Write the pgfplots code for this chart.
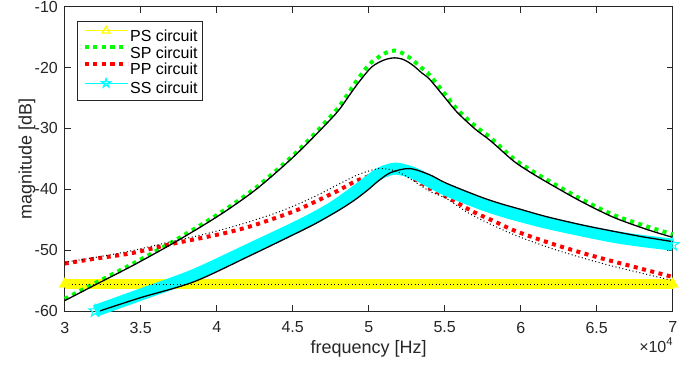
\documentclass[border=0pt]{standalone}
\usepackage{pgfplots}
\pgfplotsset{compat=1.18}
\usepackage{pgfplotstable}
\usepackage{fontspec}
\setmainfont{Liberation Sans}
\definecolor{axgray}{rgb}{0.15,0.15,0.15}
\definecolor{myyellow}{rgb}{1,1,0}
\definecolor{mygreen}{rgb}{0,1,0}
\definecolor{myred}{rgb}{1,0,0}
\definecolor{mycyan}{rgb}{0,1,1}
\pgfdeclareplotmark{pentagram}{%
 \pgfpathmoveto{\pgfpointpolar{90}{\pgfplotmarksize}}%
 \pgfpathlineto{\pgfpointpolar{126}{0.382\pgfplotmarksize}}%
 \pgfpathlineto{\pgfpointpolar{162}{\pgfplotmarksize}}%
 \pgfpathlineto{\pgfpointpolar{198}{0.382\pgfplotmarksize}}%
 \pgfpathlineto{\pgfpointpolar{234}{\pgfplotmarksize}}%
 \pgfpathlineto{\pgfpointpolar{270}{0.382\pgfplotmarksize}}%
 \pgfpathlineto{\pgfpointpolar{306}{\pgfplotmarksize}}%
 \pgfpathlineto{\pgfpointpolar{342}{0.382\pgfplotmarksize}}%
 \pgfpathlineto{\pgfpointpolar{18}{\pgfplotmarksize}}%
 \pgfpathlineto{\pgfpointpolar{54}{0.382\pgfplotmarksize}}%
 \pgfpathclose\pgfusepathqstroke}

% PS circuit (yellow)
\pgfplotstableread{
x y
3.0 -55.6
3.5 -55.6
4.0 -55.6
4.5 -55.6
5.0 -55.6
5.5 -55.6
6.0 -55.6
6.5 -55.6
7.0 -55.6
}\psdata
\pgfplotstableread{
x y
3.0 -55.6
7.0 -55.6
}\psref

% SP circuit (green)
\pgfplotstableread{
x y
3.00 -58.0
3.24 -54.9
3.45 -52.2
3.69 -48.9
3.90 -45.8
4.07 -43.1
4.25 -39.9
4.42 -36.3
4.55 -33.3
4.70 -29.4
4.80 -26.6
4.88 -23.7
4.92 -22.2
4.98 -20.2
5.02 -19.1
5.07 -18.2
5.12 -17.5
5.17 -17.2
5.22 -17.6
5.26 -18.2
5.30 -19.0
5.35 -20.1
5.40 -21.2
5.50 -24.3
5.58 -26.8
5.70 -29.6
5.80 -31.5
5.95 -34.9
6.05 -36.6
6.17 -38.4
6.39 -41.5
6.61 -44.2
6.83 -46.1
7.00 -47.4
}\spdata
\pgfplotstableread{
x y
3.00 -58.3
3.24 -55.2
3.45 -52.5
3.69 -49.2
3.90 -46.1
4.07 -43.4
4.25 -40.2
4.42 -36.6
4.55 -33.6
4.70 -29.8
4.80 -27.1
4.88 -24.3
4.92 -22.9
4.98 -21.0
5.02 -19.9
5.07 -19.1
5.12 -18.6
5.17 -18.4
5.22 -18.6
5.26 -19.1
5.30 -19.8
5.35 -20.9
5.40 -21.9
5.50 -24.9
5.58 -27.3
5.70 -30.1
5.80 -32.0
5.95 -35.3
6.05 -37.0
6.17 -38.8
6.39 -41.9
6.61 -44.6
6.83 -46.6
7.00 -47.9
}\spref

% PP circuit (red)
\pgfplotstableread{
x y
3.00 -52.2
3.20 -51.4
3.44 -50.5
3.70 -49.0
3.90 -48.0
4.07 -47.1
4.22 -46.1
4.40 -44.6
4.53 -43.4
4.66 -41.9
4.80 -40.2
4.92 -38.6
5.05 -37.5
5.15 -37.1
5.25 -37.6
5.40 -39.8
5.54 -41.6
5.68 -43.6
5.82 -45.2
5.97 -46.9
6.20 -48.9
6.41 -50.5
6.60 -51.8
6.80 -53.1
7.00 -54.4
}\ppdata
\pgfplotstableread{
x y
3.00 -52.0
3.20 -51.2
3.44 -50.1
3.70 -48.6
3.90 -47.5
4.07 -46.4
4.22 -45.3
4.40 -43.8
4.53 -42.5
4.66 -41.0
4.80 -39.2
4.92 -37.7
5.00 -37.0
5.07 -36.6
5.15 -36.8
5.23 -37.6
5.40 -40.3
5.51 -41.5
5.65 -43.8
5.79 -45.6
5.97 -47.6
6.20 -49.7
6.41 -51.3
6.60 -52.6
6.80 -53.8
7.00 -55.0
}\ppref

% SS circuit (cyan)
\pgfplotstableread{
x y
3.20 -60.0
3.50 -57.3
3.85 -54.1
4.22 -49.8
4.55 -45.9
4.75 -43.2
4.90 -40.6
5.00 -38.7
5.08 -37.3
5.18 -36.6
5.30 -37.4
5.40 -38.7
5.51 -40.1
5.73 -42.3
5.86 -43.4
5.97 -44.2
6.17 -45.5
6.41 -46.8
6.61 -47.8
6.80 -48.5
7.00 -49.1
}\ssdata
\pgfplotstableread{
x y
3.23 -60.0
3.50 -57.8
3.85 -55.2
4.22 -50.9
4.55 -46.9
4.66 -45.5
4.80 -43.5
4.90 -41.9
4.99 -40.2
5.07 -38.5
5.15 -37.2
5.27 -36.6
5.40 -37.6
5.51 -39.0
5.73 -41.2
5.86 -42.3
6.00 -43.3
6.17 -44.5
6.41 -45.9
6.61 -46.9
6.80 -47.8
7.00 -48.6
}\ssref

\begin{document}
\begin{tikzpicture}
\useasboundingbox (-64.7bp,-55bp) rectangle (634.3bp,311bp);
\begin{axis}[
  at={(0,0)}, anchor=south west,
  scale only axis, width=608bp, height=304.3bp,
  xmin=3, xmax=7, ymin=-60, ymax=-10,
  clip=false,
  xtick={3,3.5,4,4.5,5,5.5,6,6.5,7},
  ytick={-60,-50,-40,-30,-20,-10},
  tick align=inside, major tick length=6bp,
  axis line style={axgray, line width=0.8bp},
  every tick/.style={axgray, line width=0.8bp},
  /pgf/number format/assume math mode=true,
  tick label style={font=\fontsize{16bp}{19bp}\selectfont, text=axgray, inner sep=0pt},
  xticklabel style={anchor=north, yshift=-10.7bp},
  yticklabel style={anchor=east, xshift=-6.7bp},
  xlabel={frequency [Hz]},
  xlabel style={at={(axis description cs:0.5,-0.0953)}, anchor=north, inner sep=0pt,
     font=\fontsize{18bp}{21bp}\selectfont, text=axgray},
  ylabel={magnitude [dB]},
  ylabel style={at={(axis description cs:-0.062,0.5)}, anchor=center, inner sep=0pt,
     font=\fontsize{18bp}{21bp}\selectfont, text=axgray},
  legend style={at={(axis description cs:0.0207,0.953)}, anchor=north west,
     draw=axgray, line width=0.6bp, fill=white,
     inner xsep=5bp, inner ysep=5bp, row sep=2.5bp,
     font=\fontsize{16bp}{19bp}\selectfont, text=black,
     nodes={inner sep=0pt, execute at end node={\unskip}},
     /tikz/every odd column/.append style={column sep=0.5bp}},
  legend cell align=left,
  legend image code/.code={\draw[mark repeat=2,mark phase=2,#1] plot coordinates {(0bp,5.6bp) (21.5bp,5.6bp) (43bp,5.6bp)};},
]
% PS band
\addplot[myyellow, line width=10bp, forget plot] table {\psdata};
\addplot[myyellow, only marks, mark=triangle*, mark size=6.5bp, mark indices={1,9}, mark options={fill=myyellow, draw=myyellow}, forget plot] table {\psdata};
% SP
\addplot[mygreen, line width=4bp, dash pattern=on 4bp off 4.5bp, smooth, forget plot] table {\spdata};
% PP
\addplot[myred, line width=4bp, dash pattern=on 4bp off 4.5bp, smooth, forget plot] table {\ppdata};
% SS band
\addplot[mycyan, line width=12bp, smooth, line join=round, forget plot] table {\ssdata};
\addplot[mycyan, only marks, mark=pentagram, mark size=6.5bp, line width=1bp, mark indices={1,21}, forget plot] table {\ssdata};
% reference curves
\addplot[black, line width=1.3bp, smooth, forget plot] table {\spref};
\addplot[black, line width=1bp, dash pattern=on 1bp off 2.5bp, smooth, forget plot] table {\ppref};
\addplot[black, line width=1.3bp, smooth, forget plot] table {\ssref};
\addplot[black, line width=1bp, dash pattern=on 1bp off 2.5bp, forget plot] table {\psref};

\addlegendimage{draw=myyellow, line width=1.3bp, mark=triangle, mark size=4.5bp, mark options={solid, draw=myyellow}}
\addlegendentry{PS circuit}
\addlegendimage{draw=mygreen, line width=4bp, dash pattern=on 4.3bp off 4.3bp}
\addlegendentry{SP circuit}
\addlegendimage{draw=myred, line width=4bp, dash pattern=on 4.3bp off 4.3bp}
\addlegendentry{PP circuit}
\addlegendimage{draw=mycyan, line width=1.3bp, mark=pentagram, mark size=4.5bp, mark options={solid, draw=mycyan}}
\addlegendentry{SS circuit}

\node[anchor=north east, inner sep=0pt, font=\fontsize{16bp}{19bp}\selectfont, text=axgray]
  at (axis description cs:1.001,-0.0887) {×10\textsuperscript{4}};
\end{axis}
\end{tikzpicture}
\end{document}
